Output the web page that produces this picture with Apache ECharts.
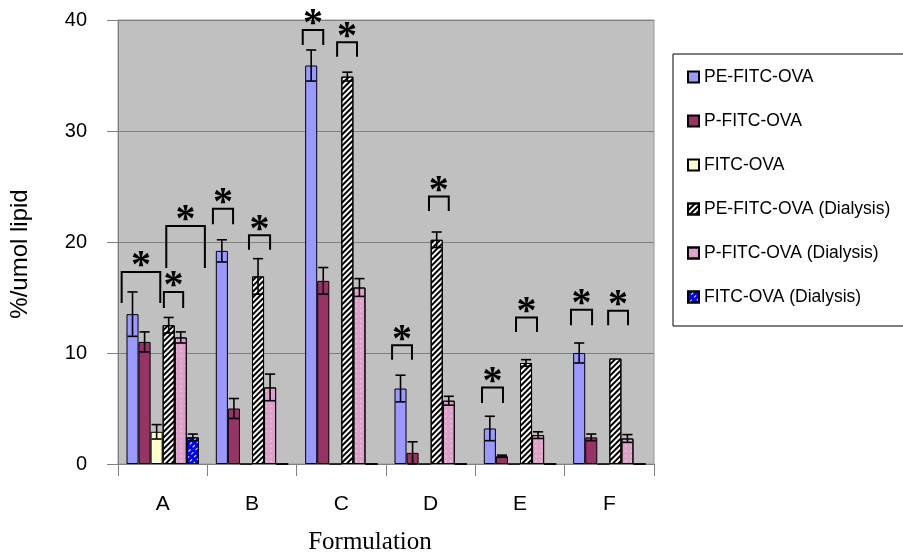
<!DOCTYPE html>
<html><head><meta charset="utf-8">
<script src="https://cdn.jsdelivr.net/npm/echarts@6/dist/echarts.min.js"></script>
<style>html,body{margin:0;padding:0;background:#fff}#c{width:903px;height:554px}</style>
</head><body><div id="c"></div>
<script>
// ---- data ----
const categories = ['A', 'B', 'C', 'D', 'E', 'F'];
const seriesNames = ['PE-FITC-OVA', 'P-FITC-OVA', 'FITC-OVA',
  'PE-FITC-OVA (Dialysis)', 'P-FITC-OVA (Dialysis)', 'FITC-OVA (Dialysis)'];

const peFitcOva        = [13.5, 19.2, 35.9, 6.8, 3.2, 10.0];
const peFitcOvaErr     = [2.0, 1.0, 1.4, 1.2, 1.1, 0.9];
const pFitcOva         = [11.0, 5.0, 16.5, 1.0, 0.7, 2.4];
const pFitcOvaErr      = [0.9, 0.9, 1.2, 1.0, 0.1, 0.3];
const fitcOva          = [2.9, 0, 0, 0, 0, 0];
const fitcOvaErr       = [0.65, 0, 0, 0, 0, 0];
const peFitcOvaDia     = [12.5, 16.9, 34.9, 20.2, 9.1, 9.5];
const peFitcOvaDiaErr  = [0.7, 1.6, 0.4, 0.7, 0.3, 0];
const pFitcOvaDia      = [11.4, 6.9, 15.9, 5.7, 2.6, 2.3];
const pFitcOvaDiaErr   = [0.5, 1.2, 0.8, 0.4, 0.3, 0.35];
const fitcOvaDia       = [2.4, 0, 0, 0, 0, 0];
const fitcOvaDiaErr    = [0.3, 0, 0, 0, 0, 0];

// significance brackets: [category index, from slot, to slot, top value, leg bottom value]
const brackets = [
  [0, -0.9, 2.3, 17.3, 14.5],
  [0, 2.6, 4.2, 15.5, 14.05],
  [0, 2.8, 6.0, 21.45, 17.65],
  [1, -0.74, 0.93, 23.0, 21.6],
  [1, 2.25, 4.0, 20.6, 19.3],
  [2, -0.7, 1.0, 39.1, 37.75],
  [2, 2.15, 3.8, 38.0, 36.7],
  [3, -0.7, 0.95, 10.7, 9.4],
  [3, 2.36, 4.0, 24.1, 22.8],
  [4, -0.65, 1.09, 6.9, 5.5],
  [4, 2.17, 3.91, 13.2, 11.9],
  [5, -0.68, 1.07, 13.9, 12.5],
  [5, 2.4, 4.05, 13.8, 12.5]
];

const yMin = 0, yMax = 40, yStep = 10;

// ---- build ----
const values = [peFitcOva, pFitcOva, fitcOva, peFitcOvaDia, pFitcOvaDia, fitcOvaDia];
const errors = [peFitcOvaErr, pFitcOvaErr, fitcOvaErr, peFitcOvaDiaErr, pFitcOvaDiaErr, fitcOvaDiaErr];
const N = values.length;
const CAT_GAP = 0.19;

const styles = [
  {color: '#9999FF'},
  {color: '#993366'},
  {color: '#FFFFCC'},
  {color: '#FFFFFF', decal: {symbol: 'rect', dashArrayX: [1, 0], dashArrayY: [1.6, 1.4], rotation: -Math.PI / 4, color: '#000'}},
  {color: '#DDA0C8', decal: {symbol: 'circle', symbolSize: 0.6, dashArrayX: [[2, 3]], dashArrayY: [2, 3], color: '#FFFFFF'}},
  {color: '#0000FF', decal: {symbol: 'rect', dashArrayX: [[3, 3]], dashArrayY: [1, 3], rotation: -Math.PI / 4, color: '#FFFFFF'}}
];

function slotX(api, cat, slot) {
  const cw = api.size([1, 0])[0];
  const bw = cw * (1 - CAT_GAP) / N;
  const c0 = api.coord([cat, 0])[0];
  return c0 - cw * (1 - CAT_GAP) / 2 + bw * (slot + 0.5);
}

const series = values.map((v, i) => ({
  name: seriesNames[i],
  type: 'bar',
  data: v,
  barGap: '0%',
  barCategoryGap: (CAT_GAP * 100) + '%',
  itemStyle: Object.assign({borderColor: '#000', borderWidth: 1}, styles[i]),
  emphasis: {disabled: true},
  animation: false
}));

const errData = [];
values.forEach((v, s) => v.forEach((val, c) => {
  if (errors[s][c] > 0) errData.push([c, s, val, errors[s][c]]);
}));

series.push({
  type: 'custom',
  name: 'err',
  data: errData,
  encode: {x: 0, y: 2},
  z: 5,
  animation: false,
  renderItem: function (params, api) {
    const c = api.value(0), s = api.value(1), v = api.value(2), e = api.value(3);
    const x = slotX(api, c, s);
    const cw = api.size([1, 0])[0];
    const half = cw * (1 - CAT_GAP) / N * 0.42;
    const yt = api.coord([c, v + e])[1];
    const yb = api.coord([c, Math.max(v - e, 0)])[1];
    const st = {stroke: '#000', lineWidth: 1.6};
    return {type: 'group', children: [
      {type: 'line', shape: {x1: x, y1: yt, x2: x, y2: yb}, style: st},
      {type: 'line', shape: {x1: x - half, y1: yt, x2: x + half, y2: yt}, style: st},
      {type: 'line', shape: {x1: x - half, y1: yb, x2: x + half, y2: yb}, style: st}
    ]};
  }
});

series.push({
  type: 'custom',
  name: 'sig',
  data: brackets,
  encode: {x: 0, y: 3},
  z: 6,
  clip: false,
  animation: false,
  renderItem: function (params, api) {
    const c = api.value(0);
    const x1 = slotX(api, c, api.value(1));
    const x2 = slotX(api, c, api.value(2));
    const yt = api.coord([c, api.value(3)])[1];
    const yb = api.coord([c, api.value(4)])[1];
    return {type: 'group', children: [
      {type: 'polyline', shape: {points: [[x1, yb], [x1, yt], [x2, yt], [x2, yb]]},
        style: {stroke: '#000', lineWidth: 2, fill: null}},
      {type: 'text', x: (x1 + x2) / 2, y: yt + 15,
        style: {text: '*', font: 'bold 40px "Liberation Serif"', fill: '#000', align: 'center', verticalAlign: 'bottom'}}
    ]};
  }
});

const chart = echarts.init(document.getElementById('c'), null, {renderer: 'canvas'});
chart.setOption({
  animation: false,
  backgroundColor: '#FFFFFF',
  grid: {left: 118, right: 249, top: 20, bottom: 90, show: true, backgroundColor: '#C0C0C0', borderColor: '#9A9A9A', borderWidth: 1},
  legend: {
    orient: 'vertical', left: 673, top: 54,
    padding: [13, 60, 19, 14],
    itemWidth: 11, itemHeight: 11, itemGap: 24,
    icon: 'rect',
    backgroundColor: '#FFFFFF', borderColor: '#000', borderWidth: 1,
    textStyle: {fontFamily: 'Liberation Sans', fontSize: 17.5, color: '#000', lineHeight: 20},
    data: seriesNames,
    selectedMode: false
  },
  xAxis: {
    type: 'category', data: categories,
    axisLine: {show: true, lineStyle: {color: '#808080', width: 1}},
    axisTick: {show: true, length: 12, lineStyle: {color: '#808080'}},
    axisLabel: {margin: 30, fontSize: 21, color: '#000', fontFamily: 'Liberation Sans'},
    splitLine: {show: false}
  },
  yAxis: {
    type: 'value', min: yMin, max: yMax, interval: yStep,
    axisLine: {show: true, lineStyle: {color: '#808080', width: 1}},
    axisTick: {show: true, length: 11, lineStyle: {color: '#808080'}},
    axisLabel: {margin: 31, fontSize: 20, color: '#000', fontFamily: 'Liberation Sans'},
    splitLine: {show: true, lineStyle: {color: '#808080', width: 1}}
  },
  graphic: [
    {type: 'text', x: 20, y: 254, rotation: Math.PI / 2,
      style: {text: '%/umol lipid', font: '24px "Liberation Sans"', fill: '#000', align: 'center', verticalAlign: 'middle'}},
    {type: 'text', x: 370, y: 542,
      style: {text: 'Formulation', font: '25px "Liberation Serif"', fill: '#000', align: 'center', verticalAlign: 'middle'}}
  ],
  series: series
});
</script>
</body></html>
